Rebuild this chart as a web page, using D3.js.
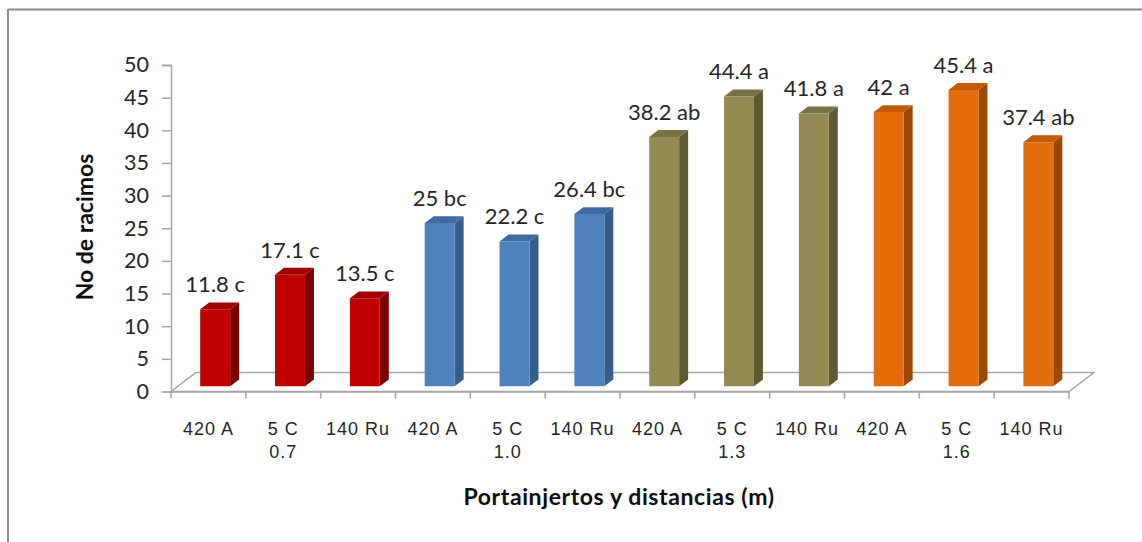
<!DOCTYPE html>
<html>
<head>
<meta charset="utf-8">
<script src="https://cdn.jsdelivr.net/npm/d3@7"></script>
<style>
  html, body { margin: 0; padding: 0; background: #fff; }
  svg { display: block; }
</style>
</head>
<body>
<svg id="chart" width="1142" height="542"></svg>
<script>
// ---- data ----
const rootstocks = ["420 A", "5 C", "140 Ru", "420 A", "5 C", "140 Ru", "420 A", "5 C", "140 Ru", "420 A", "5 C", "140 Ru"];
const distances = ["", "0.7", "", "", "1.0", "", "", "1.3", "", "", "1.6", ""];
const values = [11.8, 17.1, 13.5, 25, 22.2, 26.4, 38.2, 44.4, 41.8, 42, 45.4, 37.4];
const letters = ["c", "c", "c", "bc", "c", "bc", "ab", "a", "a", "a", "a", "ab"];
const groups = [0, 0, 0, 1, 1, 1, 2, 2, 2, 3, 3, 3];
const yTicks = [0, 5, 10, 15, 20, 25, 30, 35, 40, 45, 50];
const yTitle = "No de racimos";
const xTitle = "Portainjertos y distancias (m)";

// colours per group: front, top, side
const palette = [
  { front: "#C00000", top: "#A00000", side: "#7A0000" },
  { front: "#4F81BD", top: "#3F6BA0", side: "#385D8A" },
  { front: "#948A54", top: "#7A7245", side: "#5F5936" },
  { front: "#E46C0A", top: "#C25A08", side: "#984807" }
];

const svg = d3.select("#chart");

// frame (top and left border)
svg.append("line").attr("x1", 8).attr("y1", 9.5).attr("x2", 1142).attr("y2", 9.5)
  .attr("stroke", "#8c8c8c").attr("stroke-width", 2);
svg.append("line").attr("x1", 8).attr("y1", 9).attr("x2", 8).attr("y2", 542)
  .attr("stroke", "#8c8c8c").attr("stroke-width", 2);

// ---- scales ----
const x = d3.scaleBand().domain(d3.range(values.length)).range([171, 1069]).padding(0);
const y = d3.scaleLinear().domain([0, 50]).range([391.5, 65]);
const DX = 25, DY = -19;           // full depth offset of the floor
const dFront = 0.27, dBack = 0.63; // bar depth extent (fraction of floor depth)
const proj = (px, py, d) => [px + d * DX, py + d * DY];

// ---- floor ----
const x0 = x.range()[0], x1 = x.range()[1], y0 = y(0);
const floor = [proj(x0, y0, 0), proj(x1, y0, 0), proj(x1, y0, 1), proj(x0, y0, 1)];
svg.append("polygon").attr("points", floor.map(p => p.join(",")).join(" "))
  .attr("fill", "#fff").attr("stroke", "#a6a6a6").attr("stroke-width", 1.5);

// ---- y axis ----
const yAxis = d3.axisLeft(y).tickValues(yTicks).tickSize(9).tickPadding(13);
const gy = svg.append("g").attr("transform", `translate(${x0},0)`).call(yAxis);
gy.select(".domain").attr("stroke", "#a6a6a6").attr("stroke-width", 1.5);
gy.selectAll(".tick line").attr("stroke", "#a6a6a6").attr("stroke-width", 1.5);
gy.selectAll(".tick text").attr("font-family", "Lato, 'Open Sans', sans-serif")
  .attr("font-size", 21.5).attr("fill", "#262626");

// ---- x axis ----
const xAxis = d3.axisBottom(x).tickSize(0).tickFormat(() => "");
const gx = svg.append("g").attr("transform", `translate(0,${y0})`).call(xAxis);
gx.select(".domain").attr("stroke", "#a6a6a6").attr("stroke-width", 1.5);
// band boundary ticks
const bounds = d3.range(values.length + 1).map(i => x0 + i * x.step());
gx.selectAll("line.bt").data(bounds).join("line").attr("class", "bt")
  .attr("x1", d => d).attr("x2", d => d).attr("y1", 0).attr("y2", 7)
  .attr("stroke", "#a6a6a6").attr("stroke-width", 1.5);
// category labels
const lab = gx.selectAll("text.cat").data(values.map((v, i) => i)).join("text").attr("class", "cat")
  .attr("x", i => x(i) + x.bandwidth() / 2)
  .attr("text-anchor", "middle")
  .attr("font-family", "'Liberation Sans', Arial, sans-serif")
  .attr("font-size", 18).attr("letter-spacing", 1).attr("fill", "#262626");
lab.append("tspan").attr("x", i => x(i) + x.bandwidth() / 2).attr("y", 43).text(i => rootstocks[i]);
lab.filter(i => distances[i] !== "").append("tspan")
  .attr("x", i => x(i) + x.bandwidth() / 2).attr("y", 66).text(i => distances[i]);

// ---- bars ----
const barW = x.bandwidth() * 0.4;
const bars = svg.append("g").selectAll("g").data(values.map((v, i) => ({ v, i }))).join("g");
bars.each(function (d) {
  const g = d3.select(this);
  const c = palette[groups[d.i]];
  const cx = x(d.i) + x.bandwidth() / 2;
  const l = cx - barW / 2, r = cx + barW / 2;
  const yt = y(d.v), yb = y(0);
  const f = (px, py, dd) => proj(px, py, dd).join(",");
  // side
  g.append("polygon").attr("fill", c.side)
    .attr("points", [f(r, yb, dFront), f(r, yb, dBack), f(r, yt, dBack), f(r, yt, dFront)].join(" "));
  // top
  g.append("polygon").attr("fill", c.top)
    .attr("points", [f(l, yt, dFront), f(r, yt, dFront), f(r, yt, dBack), f(l, yt, dBack)].join(" "));
  // front
  g.append("polygon").attr("fill", c.front)
    .attr("points", [f(l, yb, dFront), f(r, yb, dFront), f(r, yt, dFront), f(l, yt, dFront)].join(" "));
  // label
  const p = proj(cx, yt, dFront);
  g.append("text").attr("x", p[0]).attr("y", p[1] - 17)
    .attr("text-anchor", "middle")
    .attr("font-family", "Lato, 'Open Sans', sans-serif")
    .attr("font-size", 22).attr("fill", "#262626")
    .text(`${d.v} ${letters[d.i]}`);
});

// ---- axis titles ----
svg.append("text").attr("transform", "translate(93,227) rotate(-90)")
  .attr("text-anchor", "middle")
  .attr("font-family", "Lato, 'Open Sans', sans-serif").attr("font-weight", "bold")
  .attr("font-size", 23).attr("fill", "#0d0d0d").text(yTitle);
svg.append("text").attr("x", 619).attr("y", 505)
  .attr("text-anchor", "middle")
  .attr("font-family", "Lato, 'Open Sans', sans-serif").attr("font-weight", "bold")
  .attr("font-size", 23).attr("letter-spacing", 0.6).attr("fill", "#0d0d0d").text(xTitle);
</script>
</body>
</html>
